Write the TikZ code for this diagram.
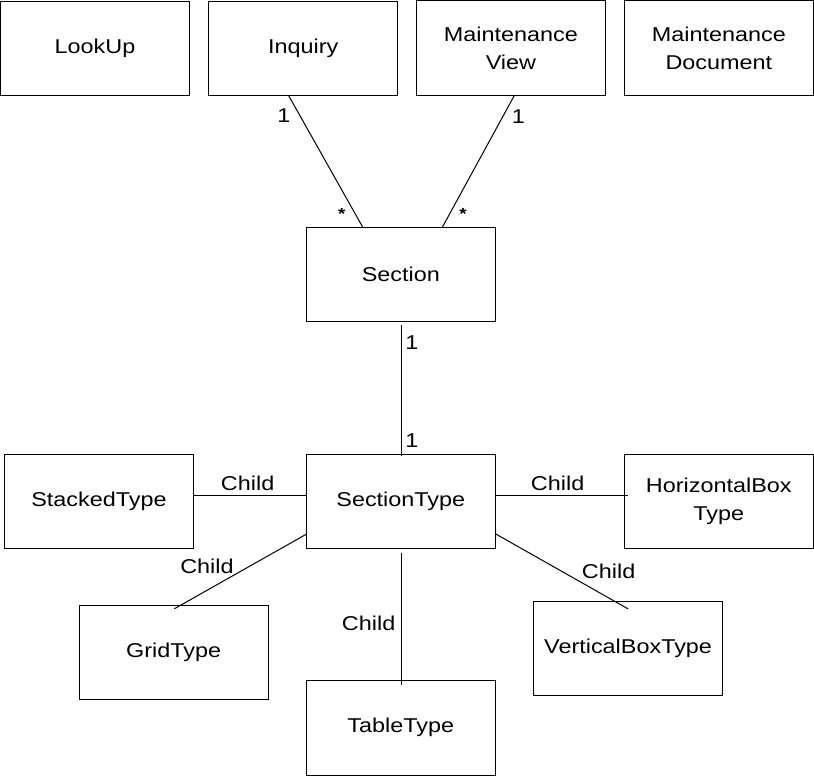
\documentclass[tikz,border=0pt]{standalone}
\usepackage{fontspec}
\setmainfont{Liberation Sans}[FakeStretch=1.17]
\usetikzlibrary{calc}
\begin{document}
\begin{tikzpicture}[x=0.75pt,y=-0.75pt,
  box/.style={draw, line width=0.75pt, minimum width=141.75pt, minimum height=70.8pt,
    inner sep=0pt, outer sep=0pt, align=center, font=\fontsize{15pt}{21pt}\selectfont},
  conn/.style={line width=0.75pt},
  lbl/.style={inner sep=0pt, font=\fontsize{15pt}{18pt}\selectfont},
  starlbl/.style={inner sep=0pt, anchor=north, font=\fontsize{12pt}{14pt}\selectfont\bfseries}]
\useasboundingbox (0,0) rectangle (814,776);
% boxes
\node[box] (lookup) at (95,48.5) {LookUp};
\node[box] (inq) at (303.2,48.5) {Inquiry};
\node[box] (mview) at (510.9,48) {Maintenance\\View};
\node[box] (mdoc) at (718.9,48) {Maintenance\\Document};
\node[box] (sec) at (400.8,274.5) {Section};
\node[box] (sect) at (400.8,501.2) {SectionType};
\node[box] (stack) at (98.9,501.2) {StackedType};
\node[box] (hbox) at (718.8,501.2) {HorizontalBox\\Type};
\node[box] (grid) at (173.7,652.3) {GridType};
\node[box] (vbox) at (628.1,648.4) {VerticalBoxType};
\node[box] (table) at (400.8,727.8) {TableType};
% connectors
\draw[conn] ($(inq.south)+(-14.5,0)$) -- ($(sec.north)+(-38,0)$);
\draw[conn] ($(mview.south)+(3.6,0)$) -- ($(sec.north)+(41.5,0)$);
\draw[conn] ($(sec.south)+(0.5,3.5)$) -- ($(sect.north)+(0.5,2.4)$);
\draw[conn] ($(stack.east)+(0,-6)$) -- ($(sect.west)+(0,-6)$);
\draw[conn] ($(sect.east)+(0,-6)$) -- ($(hbox.west)+(3.8,-6)$);
\draw[conn] ($(sect.west)+(0,33)$) -- ($(grid.north)+(0.6,3.7)$);
\draw[conn] ($(sect.east)+(0,32.5)$) -- ($(vbox.north)+(0.2,7.8)$);
\draw[conn] ($(sect.south)+(0.5,4.3)$) -- ($(table.north)+(0.5,4.7)$);
% labels
\node[lbl, anchor=base] (m1) at (284,122.7) {1};
\node[lbl, anchor=base] (m2) at (518.5,123) {1};
\node[starlbl] (s1) at (341.7,208.5) {*};
\node[starlbl] (s2) at (463,208.5) {*};
\node[lbl, anchor=base] (m3) at (412,349.3) {1};
\node[lbl, anchor=base] (m4) at (412,447.3) {1};
\node[lbl, anchor=base west] (c1) at (220.7,490.7) {Child};
\node[lbl, anchor=base west] (c2) at (180,573) {Child};
\node[lbl, anchor=base west] (c3) at (530.7,490.7) {Child};
\node[lbl, anchor=base west] (c4) at (581.7,578.3) {Child};
\node[lbl, anchor=base west] (c5) at (341.7,630.7) {Child};
\end{tikzpicture}
\end{document}
